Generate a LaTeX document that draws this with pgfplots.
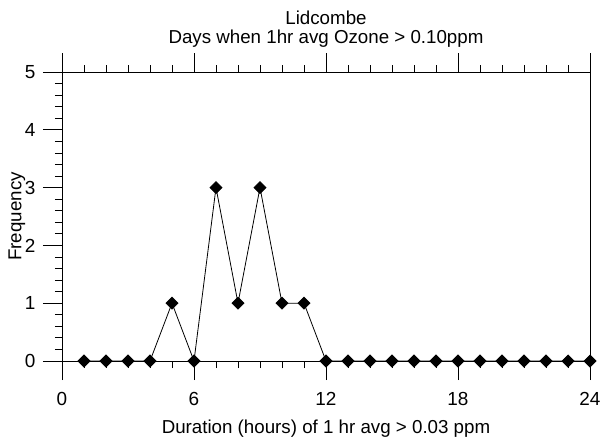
\documentclass[border=0pt]{standalone}
\usepackage{fontspec}
\setmainfont{Liberation Sans}
\usepackage{pgfplots}
\pgfplotsset{compat=1.18}

\begin{document}
\begin{tikzpicture}
\begin{axis}[
    at={(0,0)}, anchor=south west,
    scale only axis, width=528bp, height=289bp,
    xmin=0, xmax=24, ymin=0, ymax=5,
    xtick={0,6,...,24}, ytick={0,1,...,5},
    minor x tick num=5, minor y tick num=4,
    ytick pos=left, xticklabel pos=bottom,
    tick align=outside,
    major tick length=19bp, minor tick length=7bp,
    every tick/.style={black, line width=0.8pt},
    axis line style={black, line width=0.8pt},
    /pgf/number format/assume math mode=true,
    ticklabel style={font=\fontsize{19}{19}\selectfont},
    yticklabel style={xshift=-4bp},
    xticklabel style={yshift=-9bp},
    clip=false,
    xlabel={Duration (hours) of 1 hr avg > 0.03 ppm},
    xlabel style={at={(axis description cs:0.5,0)}, anchor=base, yshift=-72bp,
      font=\fontsize{18.8}{18.8}\selectfont},
    ylabel={Frequency},
    ylabel style={at={(axis description cs:0,0.5)}, anchor=center, yshift=45bp,
      font=\fontsize{18.8}{18.8}\selectfont},
    title={Days when 1hr avg Ozone > 0.10ppm},
    title style={at={(axis description cs:0.5,1)}, anchor=base, yshift=23bp,
      font=\fontsize{18.8}{18.8}\selectfont},
]
\addplot[black, line width=0.8pt, mark=square*, mark size=4.2bp,
    mark options={rotate=45, fill=black, solid}]
  coordinates {(1,0)(2,0)(3,0)(4,0)(5,1)(6,0)(7,3)(8,1)(9,3)(10,1)(11,1)(12,0)
    (13,0)(14,0)(15,0)(16,0)(17,0)(18,0)(19,0)(20,0)(21,0)(22,0)(23,0)(24,0)};
\node[anchor=base, font=\fontsize{18.8}{18.8}\selectfont, yshift=48bp]
  at (axis description cs:0.5,1) {Lidcombe};
\end{axis}
\pgfresetboundingbox
\useasboundingbox (-62bp,-80bp) rectangle (541bp,361bp);
\end{tikzpicture}
\end{document}
